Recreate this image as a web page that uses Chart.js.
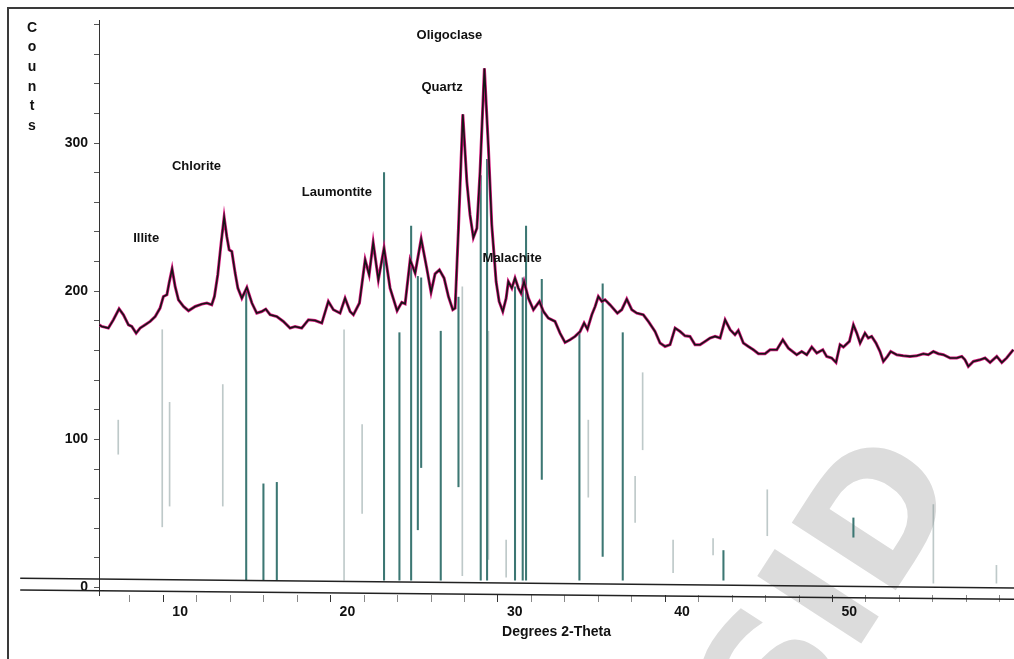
<!DOCTYPE html>
<html>
<head>
<meta charset="utf-8">
<script src="https://cdn.jsdelivr.net/npm/chart.js@4.4.1/dist/chart.umd.min.js"></script>
<style>
  html, body { margin: 0; padding: 0; background: #fff; }
  #wrap { position: relative; width: 1014px; height: 659px; }
</style>
</head>
<body>
<div id="wrap"><canvas id="xrd" width="1014" height="659"></canvas></div>
<script>
const twoTheta = [
  5.16, 5.32, 5.71, 6.01, 6.35, 6.61, 6.91, 7.11, 7.37, 7.61,
  7.91, 8.21, 8.51, 8.80, 9.00, 9.21, 9.34, 9.52, 9.70, 9.90,
  10.20, 10.50, 10.90, 11.30, 11.60, 11.89, 12.05, 12.25, 12.45, 12.63,
  12.79, 12.93, 13.09, 13.29, 13.45, 13.69, 13.99, 14.29, 14.58, 14.88,
  15.12, 15.38, 15.78, 16.17, 16.57, 16.87, 17.27, 17.67, 18.07, 18.47,
  18.86, 19.16, 19.56, 19.86, 20.16, 20.36, 20.72, 21.06, 21.30, 21.54,
  21.85, 22.19, 22.55, 22.97, 23.25, 23.45, 23.75, 24.05, 24.41, 24.75,
  25.00, 25.24, 25.50, 25.78, 26.04, 26.30, 26.44, 26.64, 26.90, 27.14,
  27.33, 27.53, 27.74, 27.93, 28.19, 28.43, 28.63, 28.89, 29.07, 29.29,
  29.49, 29.62, 29.83, 30.02, 30.22, 30.38, 30.56, 30.82, 31.12, 31.48,
  31.72, 32.01, 32.41, 32.71, 33.01, 33.31, 33.61, 33.91, 34.15, 34.35,
  34.61, 34.81, 35.00, 35.21, 35.40, 35.70, 36.14, 36.40, 36.70, 37.00,
  37.30, 37.69, 37.99, 38.39, 38.69, 38.99, 39.29, 39.59, 39.89, 40.18,
  40.48, 40.78, 41.08, 41.38, 41.68, 41.98, 42.28, 42.58, 42.88, 43.17,
  43.37, 43.67, 43.97, 44.27, 44.57, 44.97, 45.27, 45.67, 46.03, 46.36,
  46.86, 47.16, 47.46, 47.76, 48.06, 48.42, 48.65, 48.95, 49.21, 49.45,
  49.65, 50.01, 50.25, 50.45, 50.65, 50.94, 51.14, 51.34, 51.60, 51.84,
  52.04, 52.28, 52.48, 52.84, 53.23, 53.63, 54.03, 54.43, 54.73, 55.03,
  55.33, 55.63, 56.03, 56.43, 56.73, 56.92, 57.12, 57.42, 57.82, 58.12,
  58.42, 58.82, 59.12, 59.41, 59.81
];
const counts = [
  177.3, 176.2, 175.1, 180.7, 188.1, 184.1, 177.3, 176.2, 171.7, 175.1,
  177.3, 179.6, 182.9, 188.6, 196.4, 197.6, 205.5, 215.1, 203.2, 194.2,
  189.7, 186.8, 189.7, 191.3, 192.0, 190.8, 196.4, 211.1, 232.4, 250.0,
  236.9, 227.9, 226.8, 212.2, 202.1, 195.3, 202.5, 192.0, 185.2, 186.3,
  187.9, 184.1, 182.9, 179.6, 175.1, 176.2, 175.1, 180.7, 180.2, 178.5,
  193.1, 187.5, 185.2, 195.3, 186.3, 184.1, 192.0, 221.2, 211.1, 233.0,
  207.7, 229.1, 202.1, 186.8, 192.5, 191.5, 221.2, 212.2, 235.3, 215.1,
  199.3, 211.7, 214.4, 208.8, 196.4, 187.5, 188.6, 242.5, 319.4, 274.0,
  251.5, 236.2, 242.5, 280.7, 350.4, 296.5, 244.8, 206.5, 193.1, 186.3,
  195.3, 206.5, 202.1, 208.8, 202.1, 198.7, 206.5, 195.3, 187.5, 193.1,
  186.3, 181.9, 179.6, 171.7, 165.4, 167.2, 169.5, 172.8, 178.5, 174.4,
  184.1, 189.7, 196.4, 193.1, 194.2, 190.8, 185.2, 187.5, 194.7, 187.5,
  185.2, 184.1, 179.6, 172.8, 165.0, 162.7, 163.9, 175.1, 172.8, 169.9,
  169.5, 163.9, 163.9, 166.1, 168.4, 169.5, 168.4, 180.7, 174.0, 170.6,
  173.5, 165.0, 162.7, 160.5, 157.8, 157.8, 160.5, 160.5, 167.2, 161.6,
  157.1, 159.3, 157.1, 162.3, 158.3, 160.5, 156.0, 154.9, 151.9, 163.9,
  162.3, 166.1, 177.3, 171.7, 165.0, 171.7, 168.4, 169.5, 165.0, 159.3,
  152.6, 156.0, 159.3, 157.1, 156.4, 156.0, 156.4, 157.8, 157.1, 159.3,
  157.8, 157.1, 154.9, 154.9, 156.0, 153.7, 149.2, 152.6, 153.7, 154.9,
  151.9, 156.0, 151.9, 154.9, 160.5
];

// reference stick pattern (position, bottom, top)
const stickPos  = [13.95, 14.98, 15.78, 22.19, 23.11, 23.81, 24.21, 24.41, 25.58, 26.64, 27.97, 28.35, 30.02, 30.48, 30.68, 31.62, 33.87, 35.26, 36.46, 42.48, 50.25];
const stickLow  = [5, 5, 5, 5, 5, 5, 39, 81, 5, 68, 5, 5, 5, 5, 5, 73, 5, 21, 5, 5, 34];
const stickHigh = [200, 70, 71, 280, 172, 244, 210, 209, 173, 196, 278, 289, 203, 209, 244, 208, 172, 205, 172, 25, 47];

// faint (dotted) sticks
const faintPos  = [6.30, 8.93, 9.37, 12.55, 19.80, 20.88, 26.87, 28.43, 29.49, 34.40, 37.20, 37.65, 39.47, 41.86, 45.10, 55.03, 58.80];
const faintLow  = [90, 41, 55, 55, 5, 50, 8, 19, 7, 61, 44, 93, 10, 22, 35, 3, 3];
const faintHigh = [113, 174, 125, 137, 174, 110, 203, 173, 32, 113, 75, 145, 32, 33, 66, 56, 15];

// the two (slightly skewed) base lines of the scan
const baseLineX = [0.44, 59.85];
const upperLineY = [6.3, -0.3];
const lowerLineY = [-1.6, -7.9];

// axis ticks
const xTickValues = [6, 8, 10, 12, 14, 16, 18, 20, 22, 24, 26, 28, 30, 32, 34, 36, 38, 40, 42, 44, 46, 48, 50, 52, 54, 56, 58];
const yTickValues = [0, 20, 40, 60, 80, 100, 120, 140, 160, 180, 200, 220, 240, 260, 280, 300, 320, 340, 360, 380];

const mineralNames = ["Illite", "Chlorite", "Laumontite", "Oligoclase", "Quartz", "Malachite"];
const mineralX = [7.97, 10.98, 19.37, 26.10, 25.66, 29.85];
const mineralY = [235.3, 283.9, 266.7, 372.4, 337.4, 221.8];

const FONT = "'Liberation Sans', Arial, sans-serif";

const pattern = twoTheta.map((t, i) => ({ x: t, y: counts[i] }));
const sticks = stickPos.map((t, i) => ({ x: t, y: [stickLow[i], stickHigh[i]] }));
const faint = faintPos.map((t, i) => ({ x: t, y: [faintLow[i], faintHigh[i]] }));
const upperLine = baseLineX.map((t, i) => ({ x: t, y: upperLineY[i] }));
const lowerLine = baseLineX.map((t, i) => ({ x: t, y: lowerLineY[i] }));

const textPlugin = {
  id: "scanText",
  beforeDraw(chart) {
    // watermark of the scanned page, under everything
    const ctx = chart.ctx;
    ctx.save();
    ctx.translate(838, 598);
    ctx.rotate(-57 * Math.PI / 180);
    ctx.font = "bold 170px 'DejaVu Sans', sans-serif";
    ctx.fillStyle = "#dcdcdc";
    ctx.textAlign = "center";
    ctx.textBaseline = "middle";
    ctx.fillText("SID", 0, 0);
    ctx.restore();
  },
  afterDatasetsDraw(chart) {
    const ctx = chart.ctx;
    const xs = chart.scales.x;
    const ys = chart.scales.y;
    ctx.save();
    ctx.font = "bold 13px " + FONT;
    ctx.fillStyle = "#111";
    ctx.textAlign = "center";
    ctx.textBaseline = "middle";
    mineralNames.forEach((name, i) => {
      ctx.fillText(name, xs.getPixelForValue(mineralX[i]), ys.getPixelForValue(mineralY[i]));
    });
    ctx.restore();
  },
  afterDraw(chart) {
    const ctx = chart.ctx;
    ctx.save();
    // vertical "Counts"
    ctx.font = "bold 14px " + FONT;
    ctx.fillStyle = "#111";
    ctx.textAlign = "center";
    ctx.textBaseline = "middle";
    "Counts".split("").forEach((ch, i) => {
      ctx.fillText(ch, 32, 28 + i * 19.6);
    });
    // frame of the scanned figure
    ctx.strokeStyle = "#3a3a3a";
    ctx.lineWidth = 2;
    ctx.beginPath();
    ctx.moveTo(8, 659);
    ctx.lineTo(8, 8);
    ctx.lineTo(1014, 8);
    ctx.stroke();
    ctx.restore();
  }
};

new Chart(document.getElementById("xrd"), {
  type: "line",
  data: {
    datasets: [
      {
        data: pattern,
        borderColor: "#161616",
        borderWidth: 1.6,
        pointRadius: 0,
        tension: 0,
        order: 1
      },
      {
        data: pattern,
        borderColor: "#d4177c",
        borderWidth: 3,
        pointRadius: 0,
        tension: 0,
        order: 2
      },
      {
        data: upperLine,
        borderColor: "#222",
        borderWidth: 1.5,
        pointRadius: 0,
        clip: false,
        order: 3
      },
      {
        data: lowerLine,
        borderColor: "#222",
        borderWidth: 1.5,
        pointRadius: 0,
        clip: false,
        order: 3
      },
      {
        type: "bar",
        data: sticks,
        backgroundColor: "#3c7773",
        barThickness: 1.4,
        grouped: false,
        order: 4
      },
      {
        type: "bar",
        data: faint,
        backgroundColor: "rgba(110,135,135,0.45)",
        barThickness: 1,
        grouped: false,
        order: 5
      }
    ]
  },
  options: {
    responsive: false,
    animation: false,
    layout: { padding: { top: 20, left: 0, right: 0, bottom: 0 } },
    plugins: {
      legend: { display: false },
      tooltip: { enabled: false }
    },
    scales: {
      x: {
        type: "linear",
        min: 5.15,
        max: 59.85,
        offset: false,
        border: { display: false },
        grid: {
          drawOnChartArea: false,
          drawTicks: true,
          tickLength: 7,
          color: ctx => (ctx.tick && ctx.tick.value % 10 === 0) ? "#333" : "#888"
        },
        afterBuildTicks: s => { s.ticks = xTickValues.map(v => ({ value: v })); },
        ticks: {
          autoSkip: false,
          maxRotation: 0,
          padding: 2,
          color: "#111",
          font: { family: FONT, size: 14, weight: "bold" },
          callback: v => (v % 10 === 0 ? v : "")
        },
        title: {
          display: true,
          text: "Degrees 2-Theta",
          color: "#111",
          font: { family: FONT, size: 14, weight: "bold" },
          padding: { top: 0, bottom: 18 }
        },
        afterFit: s => { s.height = 64; }
      },
      y: {
        min: -5,
        max: 383,
        border: { display: true, color: "#333", width: 1 },
        grid: {
          drawOnChartArea: false,
          drawTicks: true,
          tickLength: 5,
          color: "#555"
        },
        afterBuildTicks: s => { s.ticks = yTickValues.map(v => ({ value: v })); },
        ticks: {
          autoSkip: false,
          padding: 6,
          color: "#111",
          font: { family: FONT, size: 14, weight: "bold" },
          callback: v => (v % 100 === 0 ? v : "")
        },
        afterFit: s => { s.width = 99; }
      }
    }
  },
  plugins: [textPlugin]
});
</script>
</body>
</html>
